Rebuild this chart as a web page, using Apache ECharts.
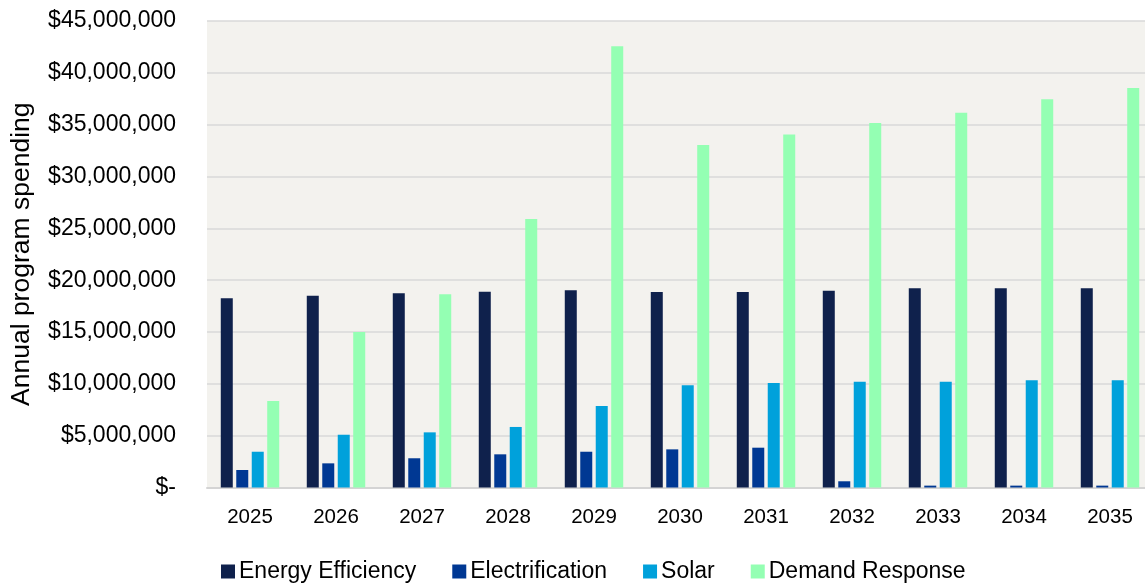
<!DOCTYPE html>
<html>
<head>
<meta charset="utf-8">
<title>Annual program spending</title>
<script src="https://cdn.jsdelivr.net/npm/echarts@6/dist/echarts.min.js"></script>
<style>
  html, body { margin: 0; padding: 0; background: #ffffff; }
  #chart { width: 1145px; height: 584px; }
</style>
</head>
<body>
<div id="chart"></div>
<script>
// Program years
const years = ['2025', '2026', '2027', '2028', '2029', '2030', '2031', '2032', '2033', '2034', '2035'];

// Annual spending per program, in dollars
const energyEfficiency = [18250000, 18500000, 18730000, 18890000, 19020000, 18860000, 18860000, 18990000, 19210000, 19210000, 19210000];
const electrification  = [1690000, 2330000, 2820000, 3200000, 3450000, 3680000, 3840000, 600000, 180000, 180000, 180000];
const solar            = [3450000, 5090000, 5320000, 5840000, 7860000, 9860000, 10080000, 10200000, 10200000, 10340000, 10340000];
const demandResponse   = [8340000, 15000000, 18630000, 25900000, 42560000, 33040000, 34040000, 35160000, 36160000, 37450000, 38540000];

const seriesNames = ['Energy Efficiency', 'Electrification', 'Solar', 'Demand Response'];
const seriesColors = ['#0f214c', '#003893', '#00a1db', '#94ffb3'];

// Accounting-style dollar labels: "$-" for zero
function dollars(v) {
  if (v === 0) return '$-';
  return '$' + String(Math.round(v)).replace(/\B(?=(\d{3})+(?!\d))/g, ',');
}

const font = '"Liberation Sans", Arial, sans-serif';
const chart = echarts.init(document.getElementById('chart'), null, { renderer: 'canvas' });

const values = [energyEfficiency, electrification, solar, demandResponse];

chart.setOption({
  animation: false,
  backgroundColor: '#ffffff',
  textStyle: { fontFamily: font, color: '#000000' },
  grid: {
    left: 207,
    top: 21,
    width: 946,
    height: 466.5,
    show: true,
    backgroundColor: '#f3f2ee',
    borderWidth: 0,
    containLabel: false,
    outerBoundsMode: 'none'
  },
  legend: {
    data: seriesNames,
    left: 216,
    top: 555,
    icon: 'rect',
    itemWidth: 14,
    itemHeight: 14,
    itemGap: 36,
    textStyle: { fontFamily: font, fontSize: 23, color: '#000000', padding: [0, 0, 0, -1] }
  },
  xAxis: {
    type: 'category',
    data: years,
    axisLine: { show: true, lineStyle: { color: '#d4d4d4', width: 2 } },
    axisTick: { show: false },
    axisLabel: { fontFamily: font, fontSize: 20.5, color: '#000000', margin: 19 }
  },
  yAxis: {
    type: 'value',
    min: 0,
    max: 45000000,
    interval: 5000000,
    name: 'Annual program spending',
    nameLocation: 'middle',
    nameRotate: 90,
    nameGap: 172,
    nameTextStyle: { fontFamily: font, fontSize: 26.5, color: '#000000' },
    axisLine: { show: false },
    axisTick: { show: false },
    splitLine: { show: true, lineStyle: { color: '#d9d9d9', width: 1.5 } },
    axisLabel: { fontFamily: font, fontSize: 23, color: '#000000', margin: 31, formatter: dollars }
  },
  series: seriesNames.map((name, i) => ({
    name: name,
    type: 'bar',
    data: values[i],
    barWidth: 12,
    barGap: '29%',
    itemStyle: { color: seriesColors[i] }
  }))
});
</script>
</body>
</html>
